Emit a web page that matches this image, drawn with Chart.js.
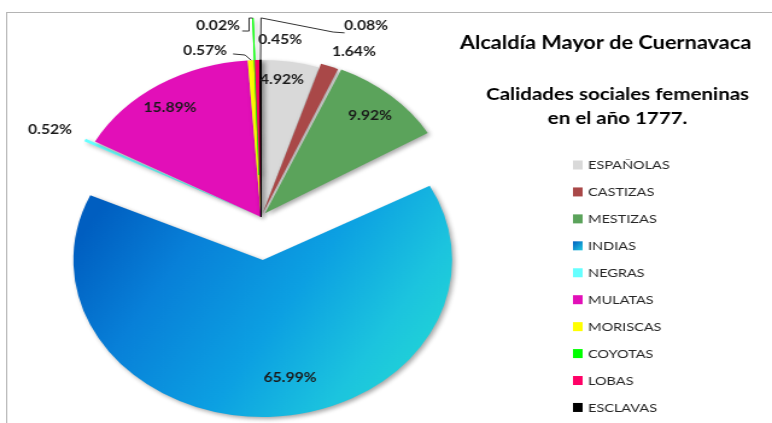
<!DOCTYPE html>
<html>
<head>
<meta charset="utf-8">
<script src="https://cdn.jsdelivr.net/npm/chart.js@4.4.0/dist/chart.umd.min.js"></script>
<style>
  body { margin: 0; background: #fff; }
  #chart { display: block; }
</style>
</head>
<body>
<!-- drawn at 640 wide and stretched, like the original picture -->
<canvas id="chart" width="640" height="423" style="width:772px;height:423px"></canvas>
<script>
const categories = ['ESPAÑOLAS', 'CASTIZAS', 'MESTIZAS', 'INDIAS', 'NEGRAS', 'MULATAS', 'MORISCAS', 'COYOTAS', 'LOBAS', 'ESCLAVAS'];
const shares = [4.92, 1.64, 9.92, 65.99, 0.52, 15.89, 0.57, 0.02, 0.45, 0.08];
const chartTitle = 'Alcaldía Mayor de Cuernavaca';
const chartSubtitle = ['Calidades sociales femeninas', 'en el año 1777.'];

const sliceColors = ['#d9d9d9', '#a94848', '#5ba35b', '#1a88dd', '#66ffff', '#e20fb8', '#ffff00', '#00ff00', '#ff0066', '#000000'];
const pieRadius = 157;
// pixel shift of each slice (chart.js moves a slice by offset / 4)
const sliceOffsets = [0, 4, 5, 43, 8, 0, 0, 42, 0, 0];
const sliceBorders = [0, 0, 0, 0, 0, 0, 0, 1, 0, 1.2];

// where each label sits: r = share of the radius, a = degrees clockwise from 12 o'clock
const labelSpots = [
  { r: 0.88, a: 7.2 },
  { r: 1.16, a: 25.0 },
  { r: 0.863, a: 41.8 },
  { r: 1.037, a: 171.5 },
  { r: 1.244, a: -63.6 },
  { r: 0.844, a: -34.7 },
  { r: 1.098, a: -15.6, leader: [[1.035, -4.66], [1.049, -8.1]] },
  { r: 1.237, a: -10.6, leader: [[1.269, -2.85], [1.186, -3.05], [1.189, -4.8]] },
  { r: 1.132, a: 5.1 },
  { r: 1.337, a: 24.5, leader: [[1.268, 0], [1.238, 17.9], [1.253, 20.6]] }
];

function indiasFill(chart) {
  const a = chart.chartArea;
  if (!a) return sliceColors[3];
  const g = chart.ctx.createLinearGradient(a.left + 30, a.top + 150, a.left + 315, a.top + 320);
  g.addColorStop(0, '#005ec0');
  g.addColorStop(0.25, '#0880d8');
  g.addColorStop(0.55, '#0ca0e2');
  g.addColorStop(0.8, '#1cc4de');
  g.addColorStop(1, '#22d8d4');
  return g;
}

function polar(meta, r, deg) {
  const arc = meta.data[0];
  const t = deg * Math.PI / 180 - Math.PI / 2;
  return [arc.x + Math.cos(t) * r * pieRadius, arc.y + Math.sin(t) * r * pieRadius];
}

// chart.js also grows an exploded slice's radius; pull it back so slices only shift
const explodePlugin = {
  id: 'explode',
  afterDatasetUpdate(chart, args) {
    args.meta.data.forEach((arc, i) => {
      const fix = 1 - Math.sin(Math.min(Math.PI, arc.circumference));
      arc.outerRadius = pieRadius - sliceOffsets[i] * fix;
    });
  }
};

const framePlugin = {
  id: 'frame',
  beforeDraw(chart) {
    const ctx = chart.ctx;
    ctx.save();
    ctx.strokeStyle = '#b4b4b4';
    ctx.lineWidth = 1;
    ctx.strokeRect(5.5, 12.5, 700, 500);
    ctx.restore();
  }
};

const shadowPlugin = {
  id: 'shadow',
  beforeDatasetsDraw(chart) {
    const ctx = chart.ctx;
    ctx.save();
    ctx.shadowColor = 'rgba(0,0,0,0.35)';
    ctx.shadowBlur = 4;
    ctx.shadowOffsetX = 2;
    ctx.shadowOffsetY = 2;
  },
  afterDatasetsDraw(chart) {
    chart.ctx.restore();
  }
};

const labelPlugin = {
  id: 'sliceLabels',
  afterDatasetsDraw(chart) {
    const ctx = chart.ctx;
    const meta = chart.getDatasetMeta(0);
    ctx.save();
    ctx.font = 'bold 13px Lato';
    ctx.textAlign = 'center';
    ctx.textBaseline = 'middle';
    meta.data.forEach((arc, i) => {
      const spot = labelSpots[i];
      if (spot.leader) {
        const mid = (arc.startAngle + arc.endAngle) / 2;
        const reach = pieRadius + sliceOffsets[i];
        ctx.beginPath();
        ctx.moveTo(arc.x + Math.cos(mid) * reach, arc.y + Math.sin(mid) * reach);
        spot.leader.forEach(([r, a]) => {
          const [x, y] = polar(meta, r, a);
          ctx.lineTo(x, y);
        });
        ctx.strokeStyle = '#333';
        ctx.lineWidth = 1;
        ctx.stroke();
      }
      const [x, y] = polar(meta, spot.r, spot.a);
      ctx.fillStyle = '#1a1a1a';
      ctx.fillText(shares[i].toFixed(2) + '%', x, y);
    });
    ctx.restore();
  }
};

const sidePlugin = {
  id: 'sideText',
  afterDraw(chart) {
    const ctx = chart.ctx;
    ctx.save();
    ctx.fillStyle = '#000';
    ctx.textAlign = 'center';
    ctx.textBaseline = 'middle';
    ctx.font = 'bold 18px Lato';
    ctx.fillText(chartTitle, 502, 43);
    ctx.font = 'bold 17px Lato';
    chartSubtitle.forEach((line, i) => ctx.fillText(line, 512, 95 + i * 24));

    ctx.textAlign = 'left';
    ctx.font = '12px Lato';
    categories.forEach((name, i) => {
      const y = 165 + i * 26.94;
      if (i === 3) {
        const g = ctx.createLinearGradient(475, y - 4, 483, y + 4);
        g.addColorStop(0, '#0060c0');
        g.addColorStop(1, '#22c8e0');
        ctx.fillStyle = g;
      } else {
        ctx.fillStyle = sliceColors[i];
      }
      ctx.fillRect(475, y - 4.5, 8, 9);
      ctx.fillStyle = '#262626';
      ctx.fillText(name, 487.5, y + 0.5);
    });
    ctx.restore();
  }
};

new Chart(document.getElementById('chart'), {
  type: 'pie',
  data: {
    labels: categories,
    datasets: [{
      data: shares,
      backgroundColor: (c) => c.dataIndex === 3 ? indiasFill(c.chart) : sliceColors[c.dataIndex],
      borderColor: sliceColors,
      borderWidth: sliceBorders,
      hoverBorderWidth: 0,
      offset: sliceOffsets.map(o => o * 4),
      hoverOffset: 0,
      radius: pieRadius
    }]
  },
  options: {
    responsive: false,
    animation: false,
    events: [],
    layout: {
      padding: { left: 37.4, right: 244.6, top: 38, bottom: 27 }
    },
    plugins: {
      legend: { display: false },
      tooltip: { enabled: false }
    }
  },
  plugins: [explodePlugin, framePlugin, shadowPlugin, labelPlugin, sidePlugin]
});
</script>
</body>
</html>
